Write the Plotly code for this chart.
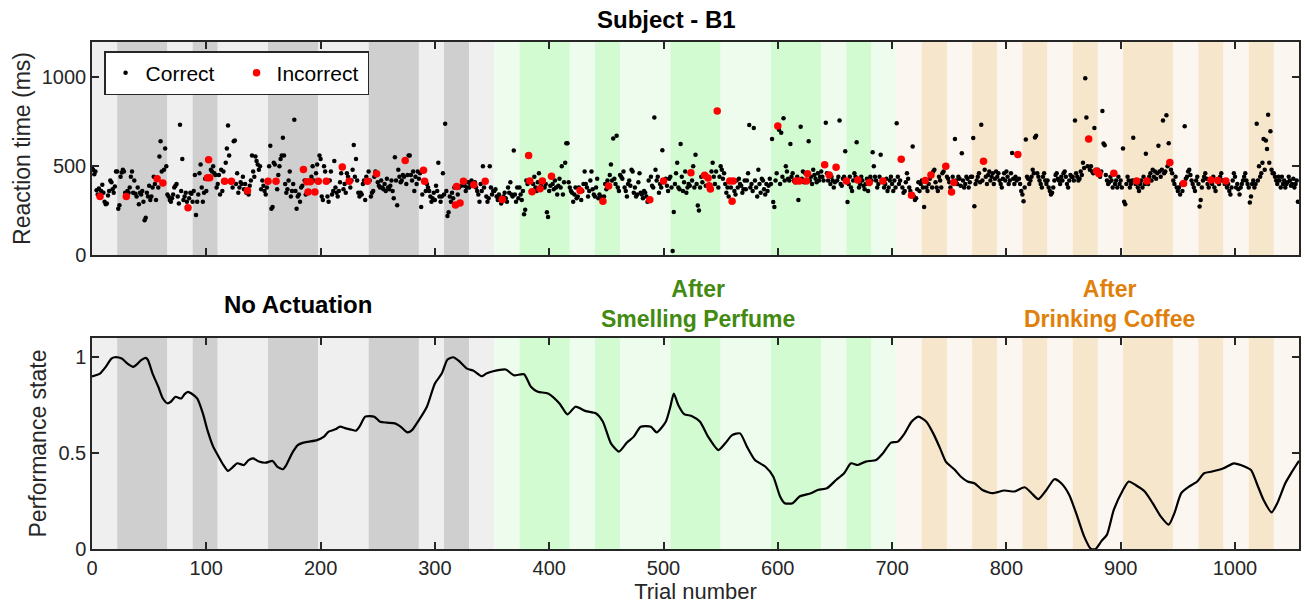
import plotly.graph_objects as go

# Reaction times (ms), one row per block of 22 trials, three conditions x 16 blocks
rt_no_actuation = [
    [490, 480, 455, 470, 365, 340, 375, 330, 360, 395, 350, 300, 285, 290, 335, 360, 420, 410, 370, 350, 385, 470],
    [470, 260, 280, 440, 465, 480, 470, 350, 330, 360, 350, 380, 440, 470, 350, 420, 345, 330, 380, 285, 350, 340],
    [360, 300, 195, 210, 350, 330, 390, 310, 330, 380, 440, 400, 310, 429, 380, 555, 640, 470, 405, 480, 600, 500],
    [340, 330, 310, 300, 320, 340, 380, 390, 400, 330, 290, 733, 360, 540, 310, 330, 350, 300, 266, 320, 350, 345],
    [300, 360, 450, 225, 300, 340, 460, 510, 380, 300, 350, 430, 360, 435, 536, 435, 480, 470, 500, 460, 450, 380],
    [400, 450, 340, 480, 360, 470, 415, 520, 600, 730, 560, 410, 415, 380, 640, 645, 400, 460, 350, 380, 410, 400],
    [440, 370, 400, 350, 362, 340, 390, 420, 560, 470, 440, 555, 530, 510, 480, 500, 370, 420, 390, 360, 340, 380],
    [415, 500, 616, 260, 270, 520, 510, 415, 370, 450, 500, 540, 560, 660, 560, 400, 350, 370, 420, 470, 330, 360],
    [400, 762, 360, 260, 330, 340, 300, 380, 390, 481, 420, 340, 412, 355, 360, 412, 440, 500, 420, 355, 460, 510],
    [415, 560, 540, 330, 310, 500, 470, 415, 330, 300, 420, 470, 340, 360, 530, 380, 350, 330, 360, 410, 460, 495],
    [370, 400, 350, 460, 440, 415, 380, 420, 480, 620, 440, 540, 420, 350, 330, 350, 340, 400, 420, 310, 440, 415],
    [470, 420, 330, 350, 360, 440, 470, 457, 410, 390, 380, 420, 380, 370, 400, 360, 430, 380, 370, 390, 420, 360],
    [320, 550, 420, 280, 480, 440, 410, 420, 450, 440, 532, 400, 450, 560, 560, 450, 420, 470, 360, 440, 400, 470],
    [430, 460, 270, 340, 477, 415, 360, 400, 380, 360, 330, 300, 320, 350, 310, 390, 360, 520, 330, 300, 330, 460],
    [340, 740, 360, 220, 240, 330, 300, 350, 320, 380, 281, 386, 340, 380, 292, 390, 420, 415, 390, 360, 380, 410],
    [380, 400, 420, 390, 395, 410, 380, 360, 340, 300, 400, 360, 500, 380, 415, 330, 300, 320, 500, 380, 340, 360],
]
rt_perfume = [
    [360, 370, 330, 310, 340, 320, 290, 313, 330, 350, 320, 300, 380, 350, 410, 340, 330, 588, 340, 300, 380, 320],
    [380, 340, 310, 360, 230, 255, 420, 400, 560, 416, 360, 356, 400, 440, 380, 360, 410, 460, 373, 390, 416, 420],
    [380, 400, 240, 214, 360, 390, 444, 400, 370, 420, 380, 340, 390, 430, 380, 500, 340, 410, 520, 629, 629, 410],
    [380, 360, 350, 300, 340, 380, 320, 330, 380, 363, 310, 360, 400, 470, 400, 380, 330, 360, 420, 470, 370, 340],
    [330, 380, 430, 320, 340, 330, 310, 302, 330, 400, 370, 420, 388, 450, 510, 420, 656, 430, 400, 672, 380, 360],
    [450, 440, 430, 470, 380, 360, 330, 400, 420, 390, 480, 470, 350, 380, 330, 340, 410, 460, 350, 340, 320, 360],
    [350, 330, 300, 420, 311, 440, 390, 380, 775, 480, 420, 440, 350, 400, 380, 590, 416, 420, 430, 390, 360, 430],
    [440, 380, 22, 242, 400, 460, 520, 380, 370, 625, 440, 360, 410, 470, 350, 380, 400, 390, 463, 420, 500, 380],
    [564, 400, 278, 250, 380, 440, 410, 450, 449, 390, 440, 433, 390, 372, 470, 520, 440, 400, 470, 811, 380, 440],
    [500, 480, 430, 460, 400, 350, 380, 330, 416, 380, 302, 416, 360, 340, 420, 380, 430, 400, 390, 350, 370, 420],
    [370, 420, 460, 732, 380, 400, 360, 716, 420, 380, 330, 480, 400, 350, 430, 420, 370, 340, 400, 360, 390, 430],
    [400, 654, 298, 270, 420, 460, 727, 705, 400, 688, 440, 770, 420, 500, 470, 430, 420, 625, 440, 460, 420, 410],
    [416, 440, 310, 416, 723, 430, 470, 410, 460, 416, 457, 640, 420, 440, 400, 480, 450, 430, 410, 460, 420, 440],
    [470, 440, 420, 508, 745, 460, 420, 451, 400, 440, 420, 380, 410, 494, 420, 440, 757, 400, 390, 430, 440, 585],
    [416, 298, 400, 440, 380, 360, 420, 460, 440, 635, 422, 380, 400, 440, 420, 390, 370, 400, 430, 360, 408, 440],
    [420, 578, 500, 440, 420, 380, 400, 440, 565, 420, 416, 380, 400, 430, 360, 380, 420, 440, 400, 360, 420, 380],
]
rt_coffee = [
    [742, 440, 400, 420, 539, 380, 350, 360, 410, 460, 430, 380, 360, 337, 611, 330, 310, 320, 370, 410, 360, 400],
    [420, 380, 270, 420, 380, 360, 400, 430, 451, 380, 470, 480, 410, 380, 360, 440, 420, 380, 460, 470, 500, 500],
    [440, 430, 410, 380, 354, 440, 408, 653, 420, 400, 440, 430, 390, 573, 420, 380, 400, 440, 430, 380, 410, 440],
    [440, 659, 275, 400, 420, 440, 460, 410, 733, 420, 528, 480, 440, 400, 450, 470, 420, 440, 460, 400, 430, 470],
    [440, 460, 420, 400, 380, 430, 460, 420, 470, 440, 400, 420, 460, 575, 430, 400, 440, 420, 566, 430, 400, 360],
    [340, 302, 380, 650, 440, 430, 400, 420, 440, 480, 460, 662, 672, 460, 440, 420, 400, 380, 440, 460, 420, 400],
    [420, 380, 360, 340, 350, 380, 420, 450, 460, 430, 420, 400, 440, 420, 460, 470, 440, 400, 380, 420, 450, 440],
    [440, 420, 757, 460, 440, 420, 430, 470, 450, 520, 490, 996, 775, 500, 653, 480, 500, 470, 460, 716, 480, 472],
    [480, 457, 440, 470, 811, 628, 618, 450, 420, 400, 410, 440, 420, 380, 460, 400, 420, 380, 440, 400, 420, 380],
    [600, 300, 285, 400, 440, 420, 380, 400, 420, 660, 420, 400, 416, 380, 360, 400, 420, 380, 440, 400, 570, 416],
    [400, 440, 460, 420, 480, 440, 470, 430, 460, 615, 470, 440, 480, 757, 460, 470, 787, 500, 630, 521, 480, 460],
    [420, 400, 440, 380, 360, 380, 340, 400, 360, 403, 725, 430, 440, 470, 480, 450, 420, 400, 380, 360, 420, 440],
    [400, 273, 310, 380, 420, 440, 460, 430, 400, 380, 420, 422, 400, 440, 380, 360, 420, 420, 400, 440, 460, 420],
    [420, 400, 416, 380, 400, 360, 340, 380, 420, 460, 440, 380, 400, 370, 340, 380, 400, 420, 440, 460, 420, 400],
    [380, 296, 330, 400, 420, 380, 400, 740, 420, 500, 440, 460, 520, 653, 480, 645, 597, 790, 520, 697, 480, 460],
    [460, 440, 420, 400, 440, 420, 380, 440, 400, 420, 380, 400, 410, 440, 420, 390, 400, 430, 380, 400, 420, 300],
]

# Trials answered incorrectly
incorrect_trials = [
    7, 30, 57, 62, 84, 101, 102, 103, 116, 122, 136, 154, 161, 185, 188, 189, 191, 195, 198, 205,
    219, 225, 241, 249, 274, 290, 291, 318, 319, 322, 325, 334, 344,
    359, 382, 383, 385, 392, 394, 402, 427, 447, 452, 488, 500, 524, 536, 539, 540, 541, 547,
    558, 560, 561, 600, 616, 619, 625, 626, 641, 645, 651, 660, 670, 680, 692,
    708, 717, 729, 734, 747, 752, 754, 780, 810, 872, 879, 881, 894, 914, 923, 943, 955, 979, 985, 992,
]

# Estimated performance state
perf_trial = [
    0, 7, 12, 17, 20, 26, 31, 36, 40, 43, 47, 49, 53, 58, 62, 66, 69, 73, 78, 81, 84, 87, 92, 97,
    101, 106, 110, 115, 119, 123, 127, 133, 137, 141, 146, 152, 158, 162, 167, 170, 175, 180, 185,
    190, 197, 203, 207, 213, 217, 222, 226, 231, 234, 239, 243, 247, 252, 258, 265, 270, 276, 280,
    286, 293, 300, 306, 311, 316, 321, 328, 334, 341, 345, 351, 362, 369, 378, 384, 390, 399, 409,
    416, 423, 432, 441, 447, 454, 461, 468, 474, 480, 489, 494, 502, 506, 509, 513, 518, 525, 532,
    539, 548, 554, 560, 567, 573, 580, 589, 596, 602, 606, 613, 619, 629, 635, 643, 651, 658, 664,
    670, 677, 686, 692, 699, 705, 711, 717, 723, 730, 736, 742, 747, 755, 760, 766, 772, 779, 788,
    798, 807, 816, 822, 828, 835, 842, 848, 855, 862, 868, 874, 878, 883, 888, 894, 902, 907, 913,
    921, 928, 935, 942, 947, 953, 960, 967, 973, 980, 990, 999, 1005, 1014, 1019, 1025, 1032, 1037,
    1044, 1050, 1056,
]
perf_value = [
    0.90, 0.915, 0.95, 0.993, 1.0, 0.993, 0.967, 0.95, 0.967, 0.985, 0.997, 0.985, 0.915, 0.846,
    0.785, 0.76, 0.768, 0.794, 0.785, 0.808, 0.82, 0.811, 0.785, 0.707, 0.62, 0.534, 0.49, 0.438,
    0.407, 0.426, 0.447, 0.438, 0.464, 0.473, 0.456, 0.45, 0.459, 0.43, 0.416, 0.438, 0.499, 0.542,
    0.555, 0.56, 0.568, 0.586, 0.612, 0.624, 0.638, 0.629, 0.624, 0.617, 0.638, 0.69, 0.693, 0.69,
    0.664, 0.659, 0.655, 0.638, 0.608, 0.62, 0.672, 0.742, 0.863, 0.915, 0.988, 1.0, 0.981, 0.941,
    0.929, 0.901, 0.915, 0.927, 0.936, 0.906, 0.911, 0.846, 0.82, 0.811, 0.759, 0.702, 0.742, 0.719,
    0.707, 0.664, 0.551, 0.508, 0.555, 0.586, 0.638, 0.638, 0.608, 0.664, 0.742, 0.811, 0.75, 0.704,
    0.693, 0.664, 0.586, 0.516, 0.551, 0.594, 0.603, 0.534, 0.464, 0.43, 0.378, 0.274, 0.239, 0.239,
    0.274, 0.291, 0.308, 0.317, 0.36, 0.395, 0.447, 0.438, 0.456, 0.464, 0.499, 0.555, 0.56, 0.603,
    0.664, 0.69, 0.664, 0.603, 0.525, 0.456, 0.412, 0.378, 0.352, 0.343, 0.308, 0.291, 0.305, 0.30,
    0.322, 0.291, 0.26, 0.308, 0.364, 0.343, 0.282, 0.17, 0.066, 0.0, 0.0, 0.04, 0.075, 0.205, 0.308,
    0.352, 0.334, 0.30, 0.239, 0.17, 0.127, 0.187, 0.291, 0.326, 0.352, 0.395, 0.404, 0.421, 0.447,
    0.438, 0.412, 0.343, 0.256, 0.191, 0.239, 0.343, 0.404, 0.46,
]

# Block shading: D = dark band, L = light band (22 trials per block)
block_len = 22
block_kind = {
    "no_actuation": "LDDLDLLDDLLDDLDL",
    "perfume": "LDDLDLLDDLLDDLDL",
    "coffee": "LDLDLDLDLDDLDLDL",
}
band_colors = {
    "no_actuation": {"L": "#efefef", "D": "#cfcfcf"},
    "perfume": {"L": "#edfced", "D": "#d2fbd2"},
    "coffee": {"L": "#fbf6ef", "D": "#f5e6cc"},
}
conditions = ["no_actuation", "perfume", "coffee"]

rt_all = [v for blocks in (rt_no_actuation, rt_perfume, rt_coffee) for row in blocks for v in row]
n_trials = len(rt_all)
trials = list(range(n_trials))
wrong = set(incorrect_trials)
x_ok = [t for t in trials if t not in wrong]
y_ok = [rt_all[t] for t in x_ok]
x_bad = [t for t in trials if t in wrong]
y_bad = [rt_all[t] for t in x_bad]

FONT = "Liberation Sans, Arial, Helvetica, sans-serif"
AX = "#262626"

fig = go.Figure()
fig.add_trace(go.Scatter(x=x_ok, y=y_ok, mode="markers", name="Correct",
                         marker=dict(color="black", size=4.5), xaxis="x", yaxis="y"))
fig.add_trace(go.Scatter(x=x_bad, y=y_bad, mode="markers", name="Incorrect",
                         marker=dict(color="#ff0000", size=7.5), xaxis="x", yaxis="y"))
fig.add_trace(go.Scatter(x=perf_trial, y=perf_value, mode="lines", showlegend=False,
                         line=dict(color="black", width=2.2, shape="spline", smoothing=0.6),
                         xaxis="x2", yaxis="y2"))

# background bands in both panels; consecutive blocks of one colour share a rectangle
runs = []
start = 0
for cond in conditions:
    for kind in block_kind[cond]:
        color = band_colors[cond][kind]
        if runs and runs[-1][2] == color:
            runs[-1][1] = start + block_len
        else:
            runs.append([start, start + block_len, color])
        start += block_len

shapes = []
for x0, x1, color in runs:
    for xr, yr in (("x", "y domain"), ("x2", "y2 domain")):
        shapes.append(dict(type="rect", xref=xr, yref=yr, x0=x0, x1=x1, y0=0, y1=1,
                           fillcolor=color, line=dict(width=0), layer="below"))

axis_common = dict(showline=True, linecolor=AX, linewidth=1.5, mirror="allticks",
                   ticks="inside", ticklen=7, tickwidth=1.5, tickcolor=AX,
                   showgrid=False, zeroline=False,
                   tickfont=dict(family=FONT, size=20, color=AX))

annotations = [
    dict(text="<b>Subject - B1</b>", xref="paper", yref="paper", x=0.476, y=1.045,
         xanchor="center", yanchor="middle", showarrow=False,
         font=dict(family=FONT, size=24, color="black")),
    dict(text="<b>No Actuation</b>", xref="x2", yref="paper", x=180, y=0.483,
         xanchor="center", yanchor="middle", showarrow=False,
         font=dict(family=FONT, size=24, color="black")),
    dict(text="<b>After<br>Smelling Perfume</b>", xref="x2", yref="paper", x=530, y=0.483,
         xanchor="center", yanchor="middle", showarrow=False,
         font=dict(family=FONT, size=23, color="#428a10")),
    dict(text="<b>After<br>Drinking Coffee</b>", xref="x2", yref="paper", x=890, y=0.483,
         xanchor="center", yanchor="middle", showarrow=False,
         font=dict(family=FONT, size=23, color="#e0800a")),
]

fig.update_layout(
    width=1305, height=611,
    margin=dict(l=92, r=4, t=42, b=62),
    paper_bgcolor="white", plot_bgcolor="white",
    font=dict(family=FONT, color=AX),
    shapes=shapes, annotations=annotations,
    xaxis=dict(axis_common, range=[0, n_trials], domain=[0, 1], anchor="y",
               tickvals=[0, 100, 200, 300, 400, 500, 600, 700, 800, 900, 1000],
               showticklabels=False),
    yaxis=dict(axis_common, range=[0, 1200], domain=[0.58, 1], anchor="x",
               tickvals=[0, 500, 1000],
               title=dict(text="Reaction time (ms)", font=dict(family=FONT, size=23, color=AX),
                          standoff=5)),
    xaxis2=dict(axis_common, range=[0, n_trials], domain=[0, 1], anchor="y2",
                tickvals=[0, 100, 200, 300, 400, 500, 600, 700, 800, 900, 1000],
                title=dict(text="Trial number", font=dict(family=FONT, size=22, color=AX),
                           standoff=6)),
    yaxis2=dict(axis_common, range=[0, 1.1], domain=[0, 0.416], anchor="x2",
                tickvals=[0, 0.5, 1], ticktext=["0", "0.5", "1"],
                title=dict(text="Performance state", font=dict(family=FONT, size=23, color=AX),
                           standoff=5)),
    legend=dict(x=0.01, y=0.982, xanchor="left", yanchor="top", orientation="h",
                bgcolor="white", bordercolor=AX, borderwidth=1.5,
                font=dict(family=FONT, size=21, color="black"),
                itemwidth=30, entrywidth=86, entrywidthmode="pixels", tracegroupgap=0),
)

fig.write_html("out.html")
